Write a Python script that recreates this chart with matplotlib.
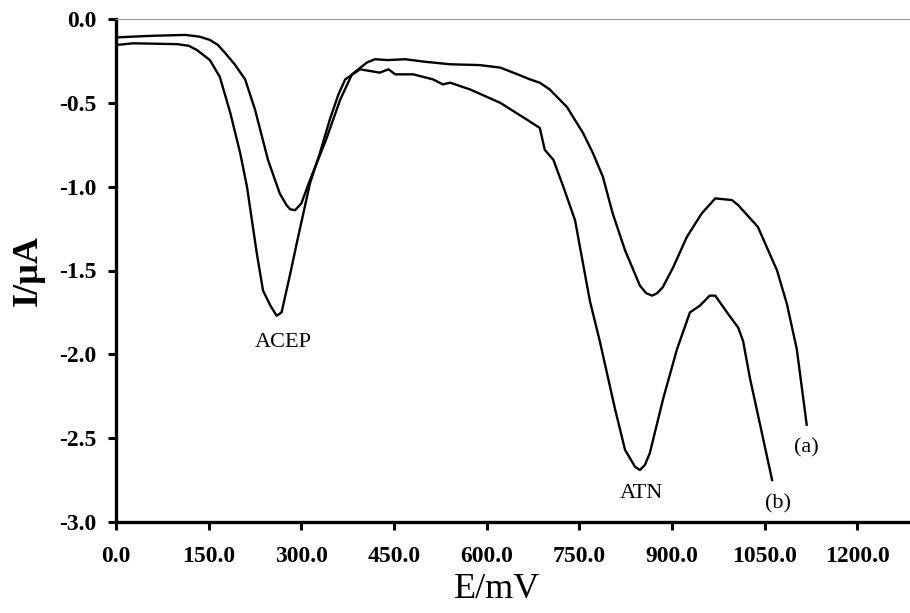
import matplotlib
matplotlib.use("Agg")
import matplotlib.pyplot as plt
import matplotlib.ticker as ticker

# 字体设置：Times风格
plt.rcParams["font.family"] = ["Liberation Serif", "DejaVu Serif"]
plt.rcParams["axes.unicode_minus"] = False

# 曲线 (a)
a_x = [0, 28, 60, 112, 135, 152, 165, 176, 192, 209, 225, 246, 265, 276, 282,
       290, 300, 314, 340, 363, 382, 406, 419, 440, 468, 500, 541, 589, 622,
       650, 670, 686, 702, 730, 740, 756, 772, 788, 804, 824, 848, 858, 868,
       876, 885, 902, 924, 948, 970, 997, 1007, 1039, 1070, 1086, 1102, 1118]
a_y = [-0.11, -0.105, -0.10, -0.095, -0.105, -0.125, -0.155, -0.20, -0.27,
       -0.36, -0.54, -0.84, -1.04, -1.11, -1.135, -1.14, -1.10, -0.96, -0.72,
       -0.48, -0.33, -0.26, -0.24, -0.245, -0.24, -0.255, -0.27, -0.275,
       -0.29, -0.33, -0.36, -0.38, -0.42, -0.525, -0.585, -0.68, -0.80, -0.94,
       -1.16, -1.38, -1.59, -1.635, -1.65, -1.635, -1.60, -1.48, -1.30, -1.16,
       -1.07, -1.08, -1.11, -1.24, -1.50, -1.70, -1.97, -2.42]

# 曲线 (b)
b_x = [0, 28, 99, 118, 131, 152, 168, 185, 201, 212, 228, 238, 250, 260, 268,
       282, 293, 314, 330, 346, 360, 371, 395, 427, 441, 452, 481, 513, 529,
       541, 573, 622, 665, 686, 694, 708, 724, 743, 767, 783, 808, 824, 840,
       848, 856, 864, 886, 908, 929, 945, 961, 970, 989, 1007, 1015, 1026,
       1042, 1062]
b_y = [-0.155, -0.145, -0.15, -0.16, -0.185, -0.245, -0.345, -0.56, -0.80,
       -1.0, -1.40, -1.62, -1.71, -1.77, -1.75, -1.52, -1.33, -0.98, -0.80,
       -0.60, -0.45, -0.36, -0.30, -0.32, -0.30, -0.33, -0.33, -0.36, -0.39,
       -0.38, -0.42, -0.50, -0.60, -0.65, -0.78, -0.84, -1.0, -1.20, -1.68,
       -1.92, -2.33, -2.57, -2.67, -2.69, -2.66, -2.59, -2.26, -1.97, -1.75,
       -1.71, -1.65, -1.65, -1.75, -1.84, -1.92, -2.14, -2.41, -2.75]

x_ticks = [0, 150, 300, 450, 600, 750, 900, 1050, 1200]
y_ticks = [-3.0, -2.5, -2.0, -1.5, -1.0, -0.5, 0.0]

# 标注文字
peak_labels = ["ACEP", "ATN", "(a)", "(b)"]
peak_pos = [(270, -1.93), (851, -2.83), (1118, -2.56), (1072, -2.89)]

fig = plt.figure(figsize=(9.1, 6.13), dpi=100)
ax = fig.add_axes([116 / 910, 1 - 522 / 613, (910 - 116) / 910, 503 / 613])

ax.plot(a_x, a_y, color="black", lw=1.7)
ax.plot(b_x, b_y, color="black", lw=1.7)

for txt, (px, py) in zip(peak_labels, peak_pos):
    ax.text(px, py, txt, fontsize=16, ha="center", va="center")

ax.set_xlim(0, (910 - 116) / 0.6178)
ax.set_ylim(-3.0, 0.0)
ax.set_xticks(x_ticks)
ax.set_yticks(y_ticks)
ax.xaxis.set_major_formatter(ticker.FormatStrFormatter("%.1f"))
ax.yaxis.set_major_formatter(ticker.FormatStrFormatter("%.1f"))

# 坐标轴样式
ax.spines["right"].set_visible(False)
ax.spines["top"].set_color("#999999")
ax.spines["top"].set_linewidth(0.8)
ax.spines["left"].set_linewidth(2.4)
ax.spines["bottom"].set_linewidth(2.4)
ax.tick_params(axis="both", direction="out", length=6, width=2.2,
               labelsize=17)
ax.tick_params(axis="x", pad=11)
ax.tick_params(axis="y", pad=8)
for lab in ax.get_xticklabels() + ax.get_yticklabels():
    lab.set_fontweight("bold")

fig.text(28 / 910, 1 - 270 / 613, "I/µA", rotation=90, fontsize=26,
         fontweight="bold", ha="center", va="center")
fig.text(497 / 910, 1 - 590 / 613, "E/mV", fontsize=26,
         ha="center", va="center")

fig.savefig("out.png", dpi=100)
